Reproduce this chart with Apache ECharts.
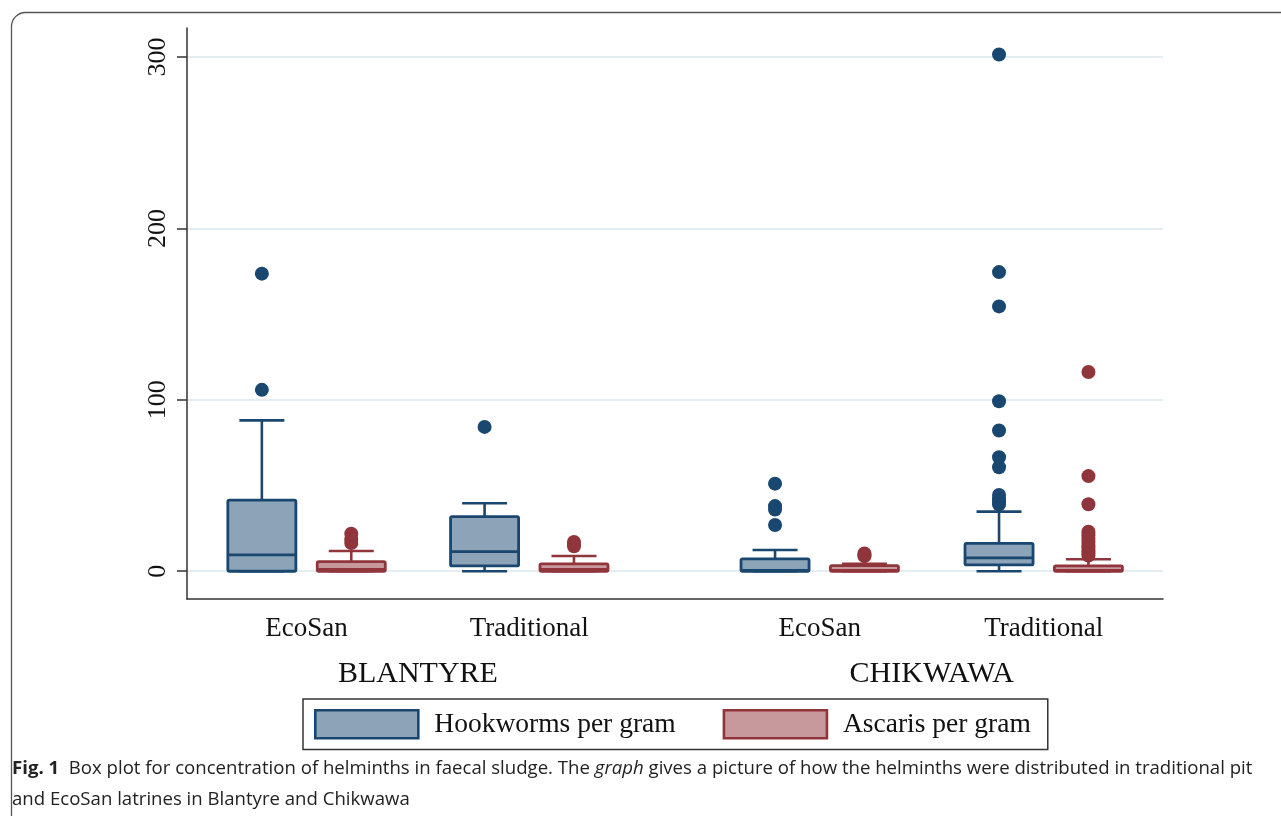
<!DOCTYPE html>
<html>
<head>
<meta charset="utf-8">
<script src="https://cdn.jsdelivr.net/npm/echarts@6/dist/echarts.min.js"></script>
<style>
html,body{margin:0;padding:0;background:#fff;}
#chart{width:1281px;height:816px;}
</style>
</head>
<body>
<div id="chart"></div>
<script>
// ---- data ----
const typeLabels = ['EcoSan', 'Traditional', 'EcoSan', 'Traditional'];
const cityLabels = ['BLANTYRE', 'CHIKWAWA'];
const seriesNames = ['Hookworms per gram', 'Ascaris per gram'];
const yTicks = [0, 100, 200, 300];
// [min, Q1, median, Q3, max] per group
const hookStats = [
  [0, 0, 9.5, 41.5, 88],
  [0, 3.1, 11.4, 31.9, 39.7],
  [0, 0, 0.5, 7.2, 12.4],
  [0, 3.7, 7.8, 16.3, 34.8]
];
const ascStats = [
  [0, 0, 1, 5.6, 11.8],
  [0, 0, 1, 4.3, 8.9],
  [0, 0, 0.5, 3.3, 4.3],
  [0, 0, 0.5, 3.1, 7.0]
];
const hookOutliers = [
  [105.8, 173.6],
  [84.2],
  [27, 36, 38, 51.1],
  [39, 40.5, 42, 44.5, 60.7, 66.5, 82.1, 99.2, 154.5, 174.5, 301.4]
];
const ascOutliers = [
  [16.5, 18.5, 21.9],
  [14.6, 16, 17.1],
  [8.8, 9.5, 10.3],
  [9.1, 10.5, 12, 13.5, 15, 17, 19, 21, 23.1, 39.1, 55.5, 116.2]
];

// ---- layout (x axis runs 0..100) ----
const groupCenters = [12.25, 35.07, 64.83, 87.78];
const cityCenters = [23.66, 76.3];
const pairOffset = 4.58;
const BOX_W = 6.97;
const CAP_W = 4.61;

const NAVY = '#1a476f', NAVY_FILL = '#8ca3b8';
const MAROON = '#90353b', MAROON_FILL = '#c8999c';
const SERIF = '"Liberation Serif", "Times New Roman", serif';
const SANS = '"Open Sans", "Noto Sans", sans-serif';

function boxData(stats, sign) {
  return stats.map((s, i) => [groupCenters[i] + sign * pairOffset].concat(s));
}
function outlierData(outs, sign) {
  const res = [];
  outs.forEach((arr, i) => arr.forEach(v => res.push([groupCenters[i] + sign * pairOffset, v])));
  return res;
}

function makeRender(stroke, fill) {
  return function (params, api) {
    const x = api.value(0);
    const lo = api.coord([x, api.value(1)]);
    const q1 = api.coord([x, api.value(2)]);
    const md = api.coord([x, api.value(3)]);
    const q3 = api.coord([x, api.value(4)]);
    const hi = api.coord([x, api.value(5)]);
    const w = api.size([BOX_W, 0])[0];
    const cw = api.size([CAP_W, 0])[0];
    const cx = lo[0];
    const ls = { stroke: stroke, lineWidth: 2.6 };
    return {
      type: 'group',
      children: [
        { type: 'line', shape: { x1: cx, y1: q3[1], x2: cx, y2: hi[1] }, style: ls },
        { type: 'line', shape: { x1: cx - cw / 2, y1: hi[1], x2: cx + cw / 2, y2: hi[1] }, style: ls },
        { type: 'line', shape: { x1: cx, y1: q1[1], x2: cx, y2: lo[1] }, style: ls },
        { type: 'line', shape: { x1: cx - cw / 2, y1: lo[1], x2: cx + cw / 2, y2: lo[1] }, style: ls },
        { type: 'rect', shape: { x: cx - w / 2, y: q3[1], width: w, height: q1[1] - q3[1], r: 1.5 },
          style: { fill: fill, stroke: stroke, lineWidth: 2.8 } },
        { type: 'line', shape: { x1: cx - w / 2, y1: md[1], x2: cx + w / 2, y2: md[1] }, style: { stroke: stroke, lineWidth: 2.8 } }
      ]
    };
  };
}

const chart = echarts.init(document.getElementById('chart'));
const option = {
  backgroundColor: '#ffffff',
  animation: false,
  grid: { left: 187, top: 28, width: 976, height: 571, containLabel: false },
  xAxis: [
    {
      type: 'value', min: 0, max: 100,
      axisLine: { show: true, onZero: false, lineStyle: { color: '#333', width: 1.5 } },
      axisTick: { show: false },
      splitLine: { show: false },
      axisLabel: {
        customValues: groupCenters,
        formatter: function (v) {
          let best = 0;
          groupCenters.forEach((c, i) => { if (Math.abs(c - v) < Math.abs(groupCenters[best] - v)) best = i; });
          return typeLabels[best];
        },
        fontFamily: SERIF, fontSize: 27, color: '#111', margin: 16
      }
    },
    {
      type: 'value', min: 0, max: 100, position: 'bottom',
      axisLine: { show: false, onZero: false }, axisTick: { show: false }, splitLine: { show: false },
      axisLabel: {
        customValues: cityCenters,
        formatter: function (v) { return Math.abs(v - cityCenters[0]) < Math.abs(v - cityCenters[1]) ? cityLabels[0] : cityLabels[1]; },
        fontFamily: SERIF, fontSize: 30, color: '#111', margin: 60
      }
    }
  ],
  yAxis: {
    type: 'value', min: -16.2, max: 316.9, splitNumber: 3,
    axisLine: { show: true, onZero: false, lineStyle: { color: '#333', width: 1.5 } },
    axisTick: { show: true, length: 10, customValues: yTicks, lineStyle: { color: '#333', width: 1.5 } },
    axisLabel: { customValues: yTicks, rotate: 90, margin: 16, fontFamily: SERIF, fontSize: 26, color: '#111' },
    splitLine: { show: true, lineStyle: { color: '#e4edf1', width: 2 } }
  },
  legend: {
    left: 303, top: 699,
    padding: [10, 17, 10, 11],
    itemGap: 47,
    itemWidth: 103, itemHeight: 28,
    borderColor: '#333', borderWidth: 1.5,
    textStyle: { fontFamily: SERIF, fontSize: 27.5, color: '#111', padding: [0, 0, 0, 11] },
    selectedMode: false,
    data: [
      { name: seriesNames[0], icon: 'rect', itemStyle: { color: NAVY_FILL, borderColor: NAVY, borderWidth: 2.6 } },
      { name: seriesNames[1], icon: 'rect', itemStyle: { color: MAROON_FILL, borderColor: MAROON, borderWidth: 2.6 } }
    ]
  },
  series: [
    {
      name: seriesNames[0], type: 'custom', renderItem: makeRender(NAVY, NAVY_FILL),
      itemStyle: { color: NAVY_FILL, borderColor: NAVY },
      encode: { x: 0, y: [1, 2, 3, 4, 5] },
      data: boxData(hookStats, -1), z: 2
    },
    {
      name: seriesNames[1], type: 'custom', renderItem: makeRender(MAROON, MAROON_FILL),
      itemStyle: { color: MAROON_FILL, borderColor: MAROON },
      encode: { x: 0, y: [1, 2, 3, 4, 5] },
      data: boxData(ascStats, 1), z: 2
    },
    {
      name: 'hook-outliers', type: 'scatter', symbol: 'circle', symbolSize: 14,
      itemStyle: { color: NAVY, opacity: 1 },
      data: outlierData(hookOutliers, -1), z: 3
    },
    {
      name: 'asc-outliers', type: 'scatter', symbol: 'circle', symbolSize: 14,
      itemStyle: { color: MAROON, opacity: 1 },
      data: outlierData(ascOutliers, 1), z: 3
    }
  ],
  graphic: [
    {
      type: 'rect', left: 9, top: 10, silent: true,
      shape: { width: 1300, height: 840, r: 14 },
      style: { fill: 'none', stroke: '#555', lineWidth: 1.3 }
    },
    {
      type: 'text', left: 12, top: 753, silent: true,
      style: {
        text: '{b|Fig. 1}  Box plot for concentration of helminths in faecal sludge. The {i|graph} gives a picture of how the helminths were distributed in traditional pit\nand EcoSan latrines in Blantyre and Chikwawa',
        fontFamily: SANS, fontSize: 18.6, lineHeight: 31, fill: '#222',
        rich: {
          b: { fontWeight: 'bold', fontFamily: SANS, fontSize: 18.6, lineHeight: 31, fill: '#222' },
          i: { fontStyle: 'italic', fontFamily: SANS, fontSize: 18.6, lineHeight: 31, fill: '#222' }
        }
      }
    }
  ]
};
chart.setOption(option);
</script>
</body>
</html>
